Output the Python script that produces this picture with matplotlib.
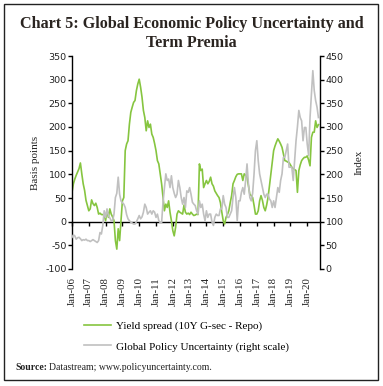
import matplotlib
matplotlib.use('Agg')
import matplotlib.pyplot as plt
import numpy as np
from matplotlib.patches import Rectangle

plt.rcParams['axes.unicode_minus'] = False

# monthly values, Jan-2006 .. Sep-2020
spread = [
    62, 80, 90, 98, 105, 112, 124, 101, 80, 66, 45, 34,        # 2006
    23, 27, 46, 38, 34, 39, 30, 16, 18, 15, 15, 13,            # 2007
    2, 23, 9, 27, 16, 10, 2, -40, -58, -15, -40, 1,            # 2008
    44, 51, 150, 164, 171, 206, 231, 242, 252, 256, 277, 291,  # 2009
    301, 284, 263, 235, 220, 192, 213, 199, 206, 185, 178, 165,  # 2010
    150, 129, 122, 101, 80, 51, 23, 37, 30, 44, 20, 2,         # 2011
    -19, -30, -12, 16, 23, 20, 18, 16, 35, 20, 16, 18,         # 2012
    15, 20, 16, 13, 14, 16, 15, 122, 108, 111, 72, 80,         # 2013
    87, 80, 85, 94, 80, 75, 65, 60, 55, 51, 40, 20,            # 2014
    2, -5, 9, 15, 23, 40, 55, 80, 87, 95, 100, 101,            # 2015
    101, 101, 87, 101, 98, 94, 76, 58, 55, 51, 35, 16,         # 2016
    16, 23, 44, 55, 45, 30, 23, 35, 51, 75, 101, 125,          # 2017
    150, 160, 168, 175, 170, 164, 157, 143, 129, 128, 126, 125,  # 2018
    120, 115, 112, 110, 108, 62, 108, 120, 129, 133, 136, 136,   # 2019
    139, 130, 118, 178, 189, 189, 213, 199, 205,               # 2020
]
gepu = [
    67, 72, 70, 63, 66, 67, 64, 60, 62, 61, 63, 60,            # 2006
    60, 58, 60, 62, 60, 58, 56, 60, 77, 74, 92, 123,           # 2007
    109, 127, 113, 108, 102, 102, 116, 151, 160, 194, 158, 144,  # 2008
    140, 137, 130, 115, 106, 102, 99, 97, 95, 95, 100, 106,    # 2009
    113, 106, 110, 120, 137, 130, 116, 120, 123, 116, 123, 120,  # 2010
    109, 116, 102, 98, 98, 141, 170, 201, 187, 190, 172, 197,  # 2011
    172, 160, 151, 158, 187, 172, 151, 137, 151, 130, 165, 162,  # 2012
    172, 158, 141, 137, 134, 123, 116, 144, 130, 137, 116, 102,  # 2013
    123, 109, 116, 116, 99, 92, 109, 116, 113, 113, 127, 127,  # 2014
    155, 137, 130, 109, 109, 116, 123, 151, 172, 151, 102, 144,  # 2015
    144, 162, 172, 158, 187, 222, 180, 151, 144, 160, 200, 250,  # 2016
    271, 229, 201, 187, 172, 158, 151, 158, 158, 148, 144, 130,  # 2017
    144, 130, 151, 172, 162, 187, 201, 236, 236, 250, 264, 215,  # 2018
    215, 215, 187, 229, 271, 300, 335, 320, 313, 271, 299, 299,  # 2019
    264, 240, 320, 370, 419, 377, 356, 342, 320,               # 2020
]
years = list(range(2006, 2021))
tick_labels = ['Jan-%02d' % (y % 100) for y in years]

t = 2006 + np.arange(len(spread)) / 12.0

serif = 'Liberation Serif'
W, H = 383, 386
fig = plt.figure(figsize=(W / 100, H / 100), dpi=100)

fig.add_artist(Rectangle((4 / W, 1 - 380 / H), 374 / W, 376 / H,
                         transform=fig.transFigure, fill=False,
                         edgecolor='#222222', lw=1.0))

fig.text(0.5, 1 - 24 / H, 'Chart 5: Global Economic Policy Uncertainty and',
         ha='center', va='center', fontsize=11.6, fontweight='bold',
         family=serif, color='#2a2420')
fig.text(0.5, 1 - 43 / H, 'Term Premia', ha='center', va='center',
         fontsize=11.6, fontweight='bold', family=serif, color='#2a2420')

ax = fig.add_axes([72 / W, 1 - 269 / H, 248 / W, 213 / H])
ax2 = ax.twinx()

green = '#86c540'
grey = '#c0c0c0'
l1, = ax.plot(t, spread, color=green, lw=1.2)
l2, = ax2.plot(t, gepu, color=grey, lw=1.2)

ax.set_xlim(2006, 2020.76)
ax.set_ylim(-100, 350)
ax2.set_ylim(0, 450)
ax.set_yticks(np.arange(-100, 351, 50))
ax2.set_yticks(np.arange(0, 451, 50))

for a in (ax, ax2):
    a.spines['top'].set_visible(False)
    a.spines['bottom'].set_visible(False)
ax.spines['right'].set_visible(False)
ax2.spines['left'].set_visible(False)
ax.spines['left'].set_linewidth(1.0)
ax2.spines['right'].set_linewidth(1.0)

ax.tick_params(axis='y', direction='out', length=3, width=1, pad=1,
               labelsize=6.8, labelcolor='#222222')
ax2.tick_params(axis='y', direction='out', length=3, width=1, pad=1,
                labelsize=6.8, labelcolor='#222222')

# labels at the bottom, tick marks on the zero line
ax.set_xticks(years)
ax.set_xticklabels(tick_labels, rotation=90, family=serif, fontsize=7.8,
                   color='#222222')
ax.tick_params(axis='x', length=0, pad=6)
sec = ax.secondary_xaxis(100 / 450)
sec.set_xticks(years)
sec.set_xticklabels([])
sec.tick_params(axis='x', direction='out', length=3, width=1)
sec.spines['bottom'].set_linewidth(1.0)

ax.set_ylabel('Basis points', family=serif, fontsize=8, color='#222222',
              labelpad=4)
ax2.set_ylabel('Index', family=serif, fontsize=8, color='#222222',
               labelpad=8)

fig.legend([l1, l2], ['Yield spread (10Y G-sec - Repo)',
                      'Global Policy Uncertainty (right scale)'],
           loc='upper left', bbox_to_anchor=(84 / W, 1 - 321 / H),
           frameon=False, prop={'family': serif, 'size': 8},
           handlelength=2.4, handletextpad=0.5, labelspacing=0.95,
           borderpad=0, borderaxespad=0)

fig.text(15 / W, 1 - 368 / H, 'Source:', family=serif, fontsize=7,
         fontweight='bold', va='center', color='#222222')
fig.text(49 / W, 1 - 368 / H, 'Datastream; www.policyuncertainty.com.',
         family=serif, fontsize=7, va='center', color='#222222')

fig.savefig('out.png', dpi=100)
